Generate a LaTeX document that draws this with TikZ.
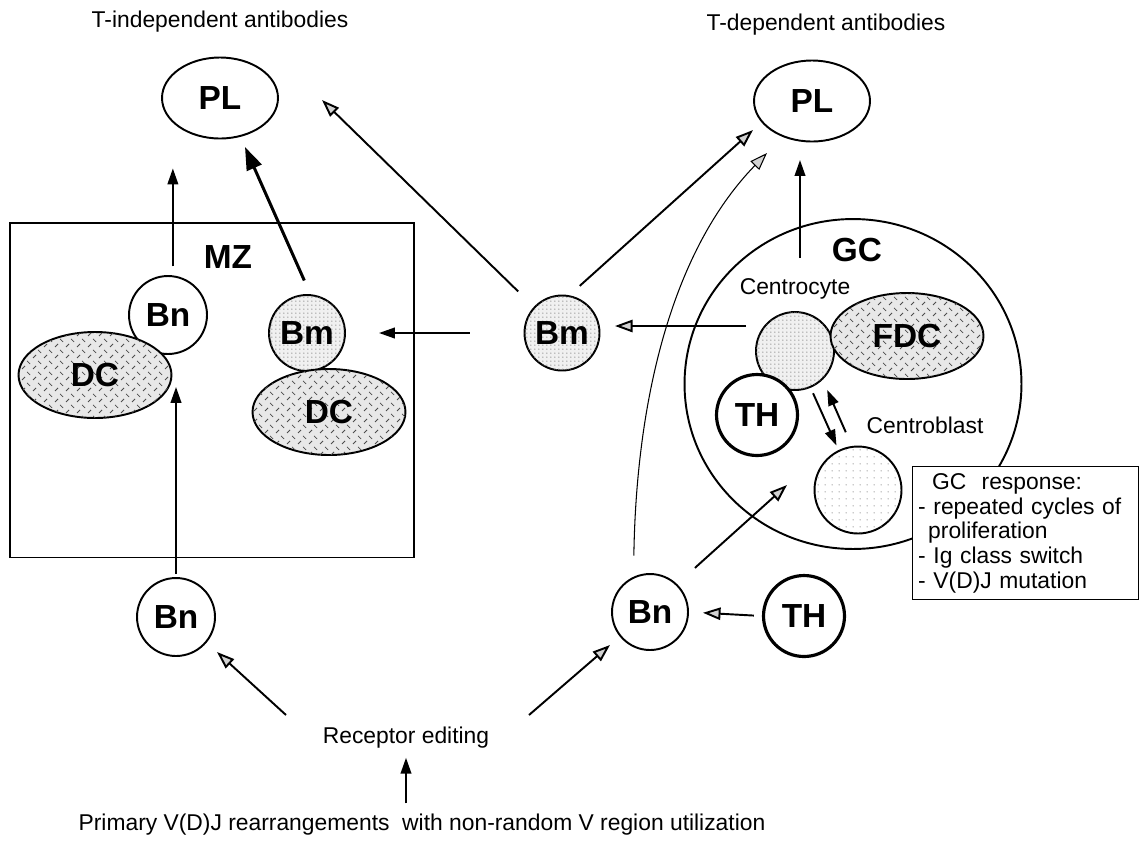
\documentclass[tikz,border=0pt]{standalone}
\usepackage{fontspec}
\setmainfont{Liberation Sans}
\usetikzlibrary{shapes.geometric,arrows.meta,patterns,patterns.meta,calc}

\newcommand{\cellfont}{\fontsize{19}{22}\selectfont\bfseries}
\newcommand{\txtfont}{\fontsize{13}{14}\selectfont}

\tikzdeclarepattern{name=dcdash, type=colored,
  bottom left={(0pt,0pt)}, top right={(6pt,6pt)}, tile size={(6pt,6pt)},
  code={\tikzset{x=1pt,y=1pt}
    \draw[black!70, line width=0.45pt] (0.6,0.6) -- (2.4,2.4);
    \draw[black!70, line width=0.45pt] (3.6,5.4) -- (5.4,3.6);}}
\tikzdeclarepattern{name=finedots, type=colored,
  bottom left={(0pt,0pt)}, top right={(2.2pt,2.2pt)}, tile size={(2.2pt,2.2pt)},
  code={\tikzset{x=1pt,y=1pt}
    \fill[black!45] (1.1,1.1) circle[radius=0.38];}}
\tikzdeclarepattern{name=sparsedots, type=colored,
  bottom left={(0pt,0pt)}, top right={(4pt,4pt)}, tile size={(4pt,4pt)},
  code={\tikzset{x=1pt,y=1pt}
    \fill[black!40] (2,2) circle[radius=0.45];}}

\begin{document}
\begin{tikzpicture}[x=0.02cm, y=-0.02cm,
  cell/.style={circle, draw, line width=1.1pt, fill=white, inner sep=0pt, minimum size=1.56cm, font=\cellfont},
  thcell/.style={cell, line width=1.8pt, minimum size=1.62cm},
  memcell/.style={cell, fill=gray!12, postaction={pattern=finedots}},
  plcell/.style={ellipse, draw, line width=1.1pt, inner sep=0pt, minimum width=2.32cm, minimum height=1.62cm, font=\cellfont},
  dccell/.style={ellipse, draw, line width=1.1pt, fill=gray!18, postaction={pattern=dcdash}, inner sep=0pt, minimum width=3.06cm, minimum height=1.72cm, font=\cellfont},
  txt/.style={font=\txtfont, inner sep=1pt},
  arr/.style={-{Triangle[length=9pt,width=6pt]}, line width=1.1pt},
  oarr/.style={-{Triangle[length=10pt,width=7pt,fill=gray!35]}, line width=1.1pt},
  bigarr/.style={-{Triangle[length=13pt,width=9pt]}, line width=1.7pt}
]
  \fill[white] (0,0) rectangle (1142,846);

  \node[txt] (tind) at (220,22) {T-independent antibodies};
  \node[txt] (tdep) at (826,25) {T-dependent antibodies};
  \node[plcell] (plL) at (220,98) {PL};
  \node[plcell] (plR) at (812,101) {PL};

  \node[draw, line width=1.1pt, minimum width=8.08cm, minimum height=6.7cm] (mz) at (212,390) {};
  \node[font=\cellfont] (mzlbl) at (228,257) {MZ};
  \node[cell] (bnMZ) at (168,315) {Bn};
  \node[dccell] (dcL) at (95,375) {DC};
  \node[memcell, minimum size=1.52cm] (bmMZ) at (307,333) {Bm};
  \node[dccell] (dcR) at (329,412) {DC};

  \node[memcell, minimum size=1.5cm] (bmC) at (562,333) {Bm};

  \node[ellipse, draw, line width=1.1pt, minimum width=6.74cm, minimum height=6.6cm] (gc) at (853,384) {};
  \node[font=\cellfont] (gclbl) at (857,250) {GC};
  \node[txt] (ccname) at (795,289) {Centrocyte};
  \node[memcell] (cc) at (795,351) {};
  \node[dccell] (fdc) at (907,336) {FDC};
  \node[thcell] (thGC) at (757,415) {TH};
  \node[txt] (cbname) at (925,425) {Centroblast};
  \node[cell, minimum size=1.74cm, postaction={pattern=sparsedots}] (cb) at (858,490) {};
  \node[draw, line width=0.8pt, fill=white, anchor=north west, minimum width=4.52cm, minimum height=2.66cm,
        align=left, font=\txtfont, inner sep=3pt, text width=4.3cm] (resp) at (912,466)
        {\hspace*{0.28cm}GC~~response:\\- repeated cycles of\\\hspace*{0.2cm}proliferation\\- Ig class switch\\- V(D)J mutation};

  \node[cell] (bnL) at (176,617) {Bn};
  \node[cell, minimum size=1.52cm] (bnR) at (650,612) {Bn};
  \node[thcell] (thR) at (804,616) {TH};
  \node[txt] (recep) at (406,738) {Receptor editing};
  \node[txt] (vdj) at (422,825) {Primary V(D)J rearrangements~ with non-random V region utilization};

  \coordinate (tipB) at (245,147);
  \coordinate (tipC) at (322,100);
  \coordinate (tipD) at (615,326);
  \coordinate (tipE) at (753,130);
  \coordinate (tipF) at (767,153);
  \coordinate (tipG) at (787,485);
  \coordinate (tailH) at (800,258);
  \coordinate (tipH) at (800,160);
  \coordinate (tailJ) at (286,715);
  \coordinate (tipJ) at (217,652);
  \coordinate (tailK) at (529,715);
  \coordinate (tipK) at (610,645);

  \draw[arr, shorten <=0.18cm, shorten >=0.58cm] (bnMZ.83) -- (bnMZ.83 |- plL.south);
  \draw[bigarr, shorten <=0.3cm] (bmMZ.85) -- (tipB);
  \draw[oarr, shorten <=0.44cm] (bmC.137) -- (tipC);
  \draw[oarr, shorten <=0.18cm] (cc.west |- tipD) -- (tipD);
  \draw[arr, shorten <=1.08cm, shorten >=0.66cm] (bmC.west) -- (bmMZ.east);
  \draw[oarr, shorten <=0.28cm] (bmC.79) -- (tipE);
  \draw[oarr, line width=0.6pt, shorten <=0.42cm] (bnR.115) .. controls (636,410) and (668,255) .. (tipF);
  \draw[oarr, shorten <=0.48cm] (bnR.46) -- (tipG);
  \draw[oarr, shorten <=0.16cm, shorten >=0.28cm] (thR.west) -- (bnR.east);
  \draw[arr] (tailH) -- (tipH);
  \draw[arr, shorten <=0.12cm, shorten >=0.1cm] (cc.-67) -- (cb.116);
  \draw[arr, shorten <=0.3cm, shorten >=0.22cm] (cb.98) -- (cc.-46);
  \draw[arr, shorten <=0.06cm, shorten >=0.64cm] (bnL.north) -- (bnL.north |- bnMZ.south);
  \draw[oarr] (tailJ) -- (tipJ);
  \draw[oarr] (tailK) -- (tipK);
  \draw[arr, shorten <=0.18cm, shorten >=0.14cm] (recep.south |- vdj.north) -- (recep.south);
\end{tikzpicture}
\end{document}
